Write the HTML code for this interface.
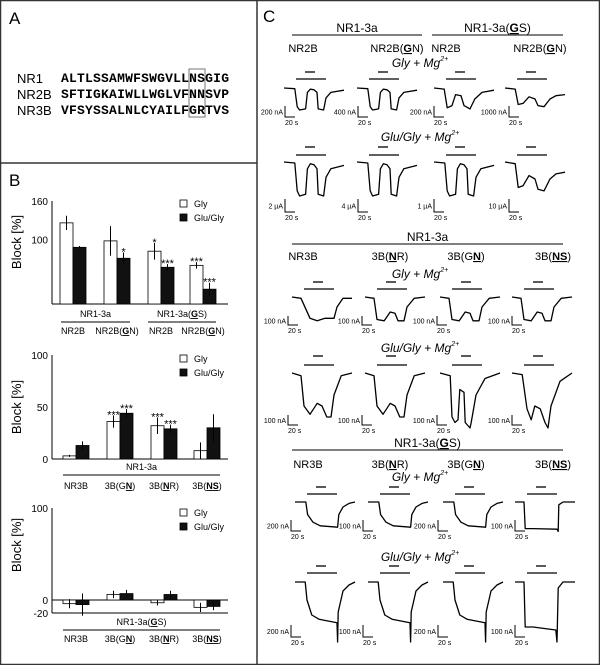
<!DOCTYPE html>
<html><head><meta charset="utf-8"><style>
html,body{margin:0;padding:0;background:#fff}
svg{display:block;font-family:"Liberation Sans",sans-serif}
</style></head><body>
<svg id="fig" width="600" height="665" viewBox="0 0 600 665" xmlns="http://www.w3.org/2000/svg">
<rect x="0.5" y="0.5" width="599" height="664" fill="#fff" stroke="#333" stroke-width="1.5"/>
<line x1="257" y1="0" x2="257" y2="665" stroke="#333" stroke-width="1.5"/>
<line x1="0" y1="163" x2="257" y2="163" stroke="#333" stroke-width="1.5"/>

<g>
<text x="9" y="24" font-size="17">A</text>
<g font-size="13">
<text x="17" y="83">NR1</text>
<text x="17" y="99">NR2B</text>
<text x="17" y="115">NR3B</text>
</g>
<g font-family="Liberation Mono,monospace" font-weight="bold" font-size="13">
<text x="61" y="82" textLength="168">ALTLSSAMWFSWGVLLNSGIG</text>
<text x="61" y="98" textLength="168">SFTIGKAIWLLWGLVFNNSVP</text>
<text x="61" y="114" textLength="168">VFSYSSALNLCYAILFGRTVS</text>
</g>
<rect x="189" y="69" width="16" height="48" fill="none" stroke="#555" stroke-width="0.8"/>
</g>

<g>
<text x="9" y="186" font-size="17">B</text>
<g id="chart1"></g>
<g id="chart2"></g>
<g id="chart3"></g>
</g>

<g id="panelC">
<text x="263" y="22" font-size="17">C</text>
</g>
</svg>
<script>
// ---------- Panel B data ----------
const c1Groups = ["NR2B", "NR2B(GN)", "NR2B", "NR2B(GN)"];
const c1Gly = [126, 98, 82, 60];
const c1GlyErr = [11, 23, 13, 5];
const c1GluGly = [88, 71, 57, 23];
const c1GluGlyErr = [2, 9, 5, 10];
const c1GlyStars = ["", "", "*", "***"];
const c1GluStars = ["", "*", "***", "***"];
const c1Ticks = [160, 100];
const c1TickLabels = ["160", "100"];

const c2Groups = ["NR3B", "3B(GN)", "3B(NR)", "3B(NS)"];
const c2Gly = [3, 36, 32, 8];
const c2GlyErr = [1, 6, 8, 8];
const c2GluGly = [13, 44, 29, 30];
const c2GluGlyErr = [4, 4, 4, 13];
const c2GlyStars = ["", "***", "***", ""];
const c2GluStars = ["", "***", "***", ""];
const c2Ticks = [100, 50, 0];
const c2TickLabels = ["100", "50", "0"];

const c3Groups = ["NR3B", "3B(GN)", "3B(NR)", "3B(NS)"];
const c3Gly = [-4, 6, -3, -8];
const c3GlyErr = [5, 4, 3, 5];
const c3GluGly = [-5, 7, 6, -7];
const c3GluGlyErr = [12, 4, 4, 4];
const c3Ticks = [100, 0, -14];
const c3TickLabels = ["100", "0", "-20"];

const NS = "http://www.w3.org/2000/svg";
function mk(tag, attrs, parent, txt) {
  const e = document.createElementNS(NS, tag);
  for (const k in attrs) e.setAttribute(k, attrs[k]);
  if (txt !== undefined) e.textContent = txt;
  parent.appendChild(e);
  return e;
}

function drawChart(g, cfg) {
  const y = v => cfg.y0 - (v - cfg.vmin) * cfg.scale;
  const ax = mk("line", {x1: 52, y1: y(cfg.vmax), x2: 52, y2: cfg.axisY, stroke: "#000", "stroke-width": 1}, g);
  
  
  const xa = mk("line", {x1: 52, y1: cfg.axisY, x2: 228, y2: cfg.axisY, stroke: "#000", "stroke-width": 1}, g);
  
  
  if (cfg.zeroLine) {
    const zl = mk("line", {x1: 52, y1: y(0), x2: 228, y2: y(0), stroke: "#000", "stroke-width": 1}, g);
    
    
  }
  cfg.ticks.forEach((t, i) => {
    const tl = mk("text", {x: 48, y: y(t) + 4, "font-size": 10, "text-anchor": "end"}, g, cfg.tickLabels[i]);
    
    
  });
  const yl = mk("text", {x: 0, y: 0, "font-size": 13, "text-anchor": "middle", transform: `translate(21,${cfg.labelY}) rotate(-90)`}, g, "Block [%]");
  
  
  const bw = 13;
  cfg.gly.forEach((v, i) => {
    const gx = cfg.gx[i];
    [[v, cfg.glyErr[i], "#fff", gx, cfg.glyStars ? cfg.glyStars[i] : ""],
     [cfg.glu[i], cfg.gluErr[i], "#111", gx + bw, cfg.gluStars ? cfg.gluStars[i] : ""]].forEach((b, k) => {
      const top = Math.min(y(b[0]), y(0)), h = Math.abs(y(b[0]) - y(0));
      const r = mk("rect", {x: b[3], y: top, width: bw, height: Math.max(h, 0.5), fill: b[2], stroke: "#000", "stroke-width": 0.8}, g);
      
      
      const cx = b[3] + bw / 2;
      const e1 = mk("line", {x1: cx, y1: y(b[0] - b[1]), x2: cx, y2: y(b[0] + b[1]), stroke: "#000", "stroke-width": 1}, g);
      
      
      if (b[4]) {
        const s = mk("text", {x: cx, y: y(b[0] + b[1]) + 3, "font-size": 11, "text-anchor": "middle"}, g, b[4]);
        
        
      }
    });
  });
  const lg = mk("g", {}, g);
  
  
  [["Gly", "#fff"], ["Glu/Gly", "#111"]].forEach((L, i) => {
    const ly = cfg.legendY + i * 14;
    const r = mk("rect", {x: 180, y: ly - 4, width: 7, height: 7, fill: L[1], stroke: "#000", "stroke-width": 0.8}, lg);
    
    
    const t = mk("text", {x: 194, y: ly + 3, "font-size": 9}, lg, L[0]);
    
    
  });
  cfg.headers.forEach(hd => {
    const t = mk("text", {x: (hd.x1 + hd.x2) / 2, y: hd.y, "font-size": 9, "text-anchor": "middle"}, g);
    t.innerHTML = hd.html;
    
    
    const l = mk("line", {x1: hd.x1, y1: hd.y + 5, x2: hd.x2, y2: hd.y + 5, stroke: "#000", "stroke-width": 1}, g);
    
    
  });
  cfg.groups.forEach((lab, i) => {
    const t = mk("text", {x: cfg.gx[i] + bw, y: cfg.labelRowY, "font-size": 9, "text-anchor": "middle"}, g);
    t.innerHTML = cfg.groupHtml[i];
    
    
  });
}
const U = s => `<tspan font-weight="bold" text-decoration="underline">${s}</tspan>`;

drawChart(document.getElementById("chart1"), {
  y0: 304, vmin: 0, vmax: 160, scale: 0.644, axisY: 304, ticks: c1Ticks, tickLabels: c1TickLabels, labelY: 242,
  gly: c1Gly, glyErr: c1GlyErr, glu: c1GluGly, gluErr: c1GluGlyErr, glyStars: c1GlyStars, gluStars: c1GluStars,
  gx: [60, 104, 148, 190], legendY: 204, groups: c1Groups,
  groupHtml: ["NR2B", "NR2B(" + U("G") + "N)", "NR2B", "NR2B(" + U("G") + "N)"],
  headers: [{x1: 61, x2: 130, y: 317, html: "NR1-3a"}, {x1: 148, x2: 216, y: 317, html: "NR1-3a(" + U("G") + "S)"}],
  labelRowY: 334
});
drawChart(document.getElementById("chart2"), {
  y0: 459, vmin: 0, vmax: 100, scale: 1.04, axisY: 459, ticks: c2Ticks, tickLabels: c2TickLabels, labelY: 407,
  gly: c2Gly, glyErr: c2GlyErr, glu: c2GluGly, gluErr: c2GluGlyErr, glyStars: c2GlyStars, gluStars: c2GluStars,
  gx: [63, 107, 151, 194], legendY: 359, groups: c2Groups,
  groupHtml: ["NR3B", "3B(G" + U("N") + ")", "3B(" + U("N") + "R)", "3B(" + U("NS") + ")"],
  headers: [{x1: 63, x2: 220, y: 470, html: "NR1-3a"}],
  labelRowY: 489
});
drawChart(document.getElementById("chart3"), {
  y0: 600, vmin: 0, vmax: 100, scale: 0.92, axisY: 613, ticks: c3Ticks, tickLabels: c3TickLabels, labelY: 545,
  gly: c3Gly, glyErr: c3GlyErr, glu: c3GluGly, gluErr: c3GluGlyErr, zeroLine: true,
  gx: [63, 107, 151, 194], legendY: 513, groups: c3Groups,
  groupHtml: ["NR3B", "3B(G" + U("N") + ")", "3B(" + U("N") + "R)", "3B(" + U("NS") + ")"],
  headers: [{x1: 63, x2: 220, y: 625, html: "NR1-3a(" + U("G") + "S)"}],
  labelRowY: 642
});

// ---------- Panel C traces ----------
const dbl = [[0,0],[0.18,0.03],[0.22,0.85],[0.26,1],[0.36,0.95],[0.39,0.2],[0.44,0.05],[0.5,0.08],[0.55,0.2],[0.57,0.95],[0.66,1],[0.7,0.45],[0.78,0.2],[1,0.1]];
const mid = [[0,0],[0.17,0.05],[0.22,0.9],[0.3,0.8],[0.36,0.3],[0.45,0.35],[0.5,0.8],[0.6,0.95],[0.68,0.5],[0.8,0.2],[1,0.1]];
const shallow = [[0,0],[0.17,0.05],[0.22,0.75],[0.3,0.7],[0.4,0.4],[0.5,0.5],[0.55,0.8],[0.65,0.85],[0.75,0.5],[0.85,0.35],[1,0.3]];
const block = [[0,0],[0.15,0.05],[0.3,0.85],[0.42,0.95],[0.55,0.85],[0.7,0.85],[0.75,0.4],[0.85,0.05],[1,0.05]];
const notch = [[0,0],[0.15,0.05],[0.2,0.9],[0.32,0.95],[0.42,0.6],[0.5,0.65],[0.55,0.95],[0.65,0.95],[0.7,0.4],[0.82,0.05],[1,0]];
const notchDeep = [[0,0],[0.15,0.05],[0.2,0.6],[0.3,0.75],[0.42,0.55],[0.5,0.6],[0.58,0.8],[0.65,0.8],[0.7,0.4],[0.82,0.05],[1,0]];
const spikeDbl = [[0,0],[0.17,0.05],[0.2,0.8],[0.25,0.9],[0.3,0.85],[0.33,0.3],[0.4,0.35],[0.42,0.9],[0.5,1],[0.52,0.9],[0.6,0.4],[0.75,0.1],[1,0]];
const deepEnd = [[0,0],[0.17,0.03],[0.25,0.65],[0.32,0.85],[0.38,0.6],[0.47,0.65],[0.55,0.9],[0.6,1],[0.65,0.6],[0.8,0.15],[1,0]];
const ramp = [[0,0],[0.18,0],[0.21,0.45],[0.3,0.72],[0.42,0.85],[0.71,0.9],[0.73,0.45],[0.8,0.18],[0.9,0.05],[1,0]];
const square = [[0,0],[0.15,0],[0.17,0.95],[0.3,0.95],[0.7,0.97],[0.72,1.05],[0.73,0.1],[0.8,0],[1,0]];
const rampSpike = [[0,0],[0.17,0],[0.2,0.3],[0.28,0.55],[0.4,0.62],[0.7,0.68],[0.71,1],[0.72,0.5],[0.8,0.15],[0.9,0.05],[1,0]];
const squareSpike = [[0,0],[0.15,0],[0.17,0.75],[0.3,0.75],[0.68,0.8],[0.7,1],[0.72,0.1],[0.8,0],[1,0]];

const sections = [
  {head: [{x1: 292, x2: 422, html: "NR1-3a"}, {x1: 432, x2: 563, html: "NR1-3a(" + U("G") + "S)"}], headY: 32,
   colLabels: ["NR2B", "NR2B(" + U("G") + "N)", "NR2B", "NR2B(" + U("G") + "N)"], colLabelX: [303, 397, 446, 540], colY: 52,
   x0: [284, 357, 434, 505], sx: [285, 358, 434, 509],
   rows: [{title: "Gly", ty: 67, sy: 72, ly: 79, top: 88, bot: 110, s1: 106, s2: 117, units: ["200 nA", "400 nA", "200 nA", "1000 nA"], shapes: [dbl, dbl, mid, shallow]},
          {title: "Glu/Gly", ty: 141, sy: 147, ly: 155, top: 162, bot: 196, s1: 199, s2: 212, units: ["2 µA", "4 µA", "1 µA", "10 µA"], shapes: [dbl, dbl, dbl, shallow]}]},
  {head: [{x1: 292, x2: 563, html: "NR1-3a"}], headY: 241,
   colLabels: ["NR3B", "3B(" + U("N") + "R)", "3B(G" + U("N") + ")", "3B(" + U("NS") + ")"], colLabelX: [303, 390, 466, 553], colY: 260,
   x0: [292, 365, 440, 512], sx: [288, 362, 437, 512],
   rows: [{title: "Gly", ty: 278, sy: 282, ly: 289, top: 297, bot: 322, s1: 316, s2: 325, units: ["100 nA", "100 nA", "100 nA", "100 nA"], shapes: [block, notch, notch, notch]},
          {title: "Glu/Gly", ty: 352, sy: 356, ly: 365, top: 373, bot: 428, s1: 415, s2: 425, units: ["100 nA", "100 nA", "100 nA", "100 nA"], shapes: [notchDeep, notchDeep, spikeDbl, deepEnd]}]},
  {head: [{x1: 292, x2: 563, html: "NR1-3a(" + U("G") + "S)"}], headY: 447,
   colLabels: ["NR3B", "3B(" + U("N") + "R)", "3B(G" + U("N") + ")", "3B(" + U("NS") + ")"], colLabelX: [308, 390, 466, 553], colY: 468,
   x0: [295, 368, 443, 515], sx: [291, 363, 438, 515],
   rows: [{title: "Gly", ty: 481, sy: 487, ly: 494, top: 502, bot: 530, s1: 520, s2: 531, units: ["200 nA", "100 nA", "200 nA", "100 nA"], shapes: [ramp, ramp, ramp, square]},
          {title: "Glu/Gly", ty: 561, sy: 566, ly: 573, top: 582, bot: 642, s1: 625, s2: 637, units: ["200 nA", "100 nA", "200 nA", "100 nA"], shapes: [rampSpike, rampSpike, rampSpike, squareSpike]}]}
];

const pc = document.getElementById("panelC");
sections.forEach(sec => {
  sec.head.forEach(h => {
    const t = mk("text", {x: (h.x1 + h.x2) / 2, y: sec.headY, "font-size": 12, "text-anchor": "middle"}, pc);
    t.innerHTML = h.html;
    
    
    const l = mk("line", {x1: h.x1, y1: sec.headY + 3, x2: h.x2, y2: sec.headY + 3, stroke: "#000", "stroke-width": 1}, pc);
    
    
  });
  sec.colLabels.forEach((c, i) => {
    const t = mk("text", {x: sec.colLabelX[i], y: sec.colY, "font-size": 11, "text-anchor": "middle"}, pc);
    t.innerHTML = c;
    
    
  });
  sec.rows.forEach(r => {
    const t = mk("text", {x: 420, y: r.ty, "font-size": 12, "font-style": "italic", "text-anchor": "middle"}, pc);
    t.innerHTML = r.title + ' + Mg<tspan font-size="7" dy="-6">2+</tspan>';
    
    
    sec.x0.forEach((x0, i) => {
      const sb = mk("line", {x1: x0 + 21, y1: r.sy, x2: x0 + 31, y2: r.sy, stroke: "#000", "stroke-width": 1.3}, pc);
      
      
      const lb = mk("line", {x1: x0 + 12, y1: r.ly, x2: x0 + 42, y2: r.ly, stroke: "#000", "stroke-width": 1.3}, pc);
      
      
      const h = r.bot - r.top;
      const pts = r.shapes[i].map(p => (x0 + p[0] * 60).toFixed(1) + "," + (r.top + p[1] * h).toFixed(1)).join(" ");
      const pl = mk("polyline", {points: pts, fill: "none", stroke: "#000", "stroke-width": 1.3, "stroke-linejoin": "round"}, pc);
      
      
      const sx = sec.sx[i];
      const scl = mk("polyline", {points: `${sx},${r.s1} ${sx},${r.s2} ${sx + 10},${r.s2}`, fill: "none", stroke: "#000", "stroke-width": 1}, pc);
      
      
      const ut = mk("text", {x: sx - 2, y: (r.s1 + r.s2) / 2 + 3, "font-size": 7, "text-anchor": "end"}, pc, r.units[i]);
      
      
      const tt = mk("text", {x: sx, y: r.s2 + 8, "font-size": 7}, pc, "20 s");
      
      
    });
  });
});
</script>
</body></html>
